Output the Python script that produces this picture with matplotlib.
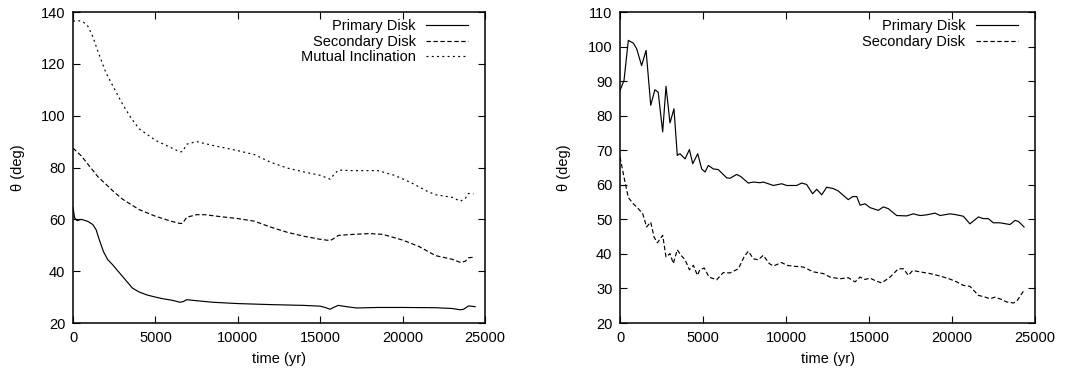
import numpy as np
import matplotlib
matplotlib.use("Agg")
import matplotlib.pyplot as plt

# left panel: inclination of the two disks and the mutual inclination
t_prim_a = [0, 100, 250, 500, 900, 1200, 1400, 1600, 1850, 2100, 2400, 2800, 3200, 3600,
            4000, 4500, 5000, 5500, 6000, 6500, 6700, 6900, 7500, 8500, 10000, 12000, 14000,
            15000, 15300, 15600, 15800, 16100, 16600, 17200, 18500, 20000, 22000, 23000,
            23500, 23700, 24000, 24400]
prim_a = [64.5, 60.5, 59.5, 60, 59.2, 58, 56, 52, 47.5, 44.5, 42.5, 39.5, 36.5, 33.5,
          32, 30.8, 30, 29.3, 28.8, 28, 28.3, 29, 28.6, 28, 27.5, 27.1, 26.8,
          26.5, 26, 25.3, 26, 26.8, 26.3, 25.8, 26, 26, 25.9, 25.6,
          25.1, 25.3, 26.6, 26.3]

t_sec_a = [0, 500, 1000, 1500, 2000, 2500, 3000, 4000, 5000, 6000, 6500, 6650, 6900, 7500,
           8000, 9000, 10000, 11000, 12000, 13000, 14000, 15000, 15600, 15800, 16100, 17000,
           18000, 18800, 20000, 21000, 22000, 23000, 23500, 23800, 24000, 24400]
sec_a = [87.5, 84.5, 80.5, 76.5, 73.5, 70.5, 67.8, 63.8, 61.2, 59.2, 58.4, 58.5, 60.8, 61.8,
         61.8, 61, 60.3, 59.3, 57, 55, 53.5, 52.3, 51.8, 52.5, 53.8, 54.2,
         54.5, 54.2, 52, 49.5, 46, 44.6, 43.4, 43.8, 45.2, 45.4]

t_mut = [0, 300, 600, 900, 1200, 1500, 2000, 2500, 3000, 3500, 4000, 5000, 6000, 6500, 6650,
         6900, 7500, 8500, 10000, 11000, 12000, 13000, 14000, 15000, 15600, 15800, 16100,
         17000, 18500, 19500, 20500, 21500, 22000, 23000, 23500, 23800, 24000, 24300]
mut = [136.5, 136.7, 136.3, 134.5, 130.5, 125, 116.5, 110.5, 104.5, 99.3, 95, 90.5, 87.5, 86, 86.2,
       89, 90, 88.5, 86.5, 85, 82, 79.8, 78.3, 77, 75.5, 77, 79,
       78.8, 78.8, 77, 74.2, 70.8, 69.5, 68.5, 67, 68, 70, 69.8]

# right panel
t_prim_b = [0, 240, 500, 800, 1000, 1300, 1570, 1850, 2100, 2300, 2570, 2770, 3010, 3250,
            3450, 3610, 3920, 4180, 4380, 4680, 4920, 5120, 5320, 5620, 5920, 6430, 6630,
            7030, 7270, 7730, 8030, 8430, 8630, 9240, 9740, 10040, 10640, 10940, 11240,
            11600, 11850, 12150, 12450, 12850, 13150, 13750, 14020, 14260, 14460, 14760,
            15060, 15560, 15860, 16160, 16670, 17270, 17670, 18070, 18470, 18980, 19280,
            19880, 20180, 20680, 21080, 21590, 21890, 22190, 22490, 22890, 23490, 23800,
            24000, 24340]
prim_b = [87.3, 90.2, 101.8, 101, 99.4, 94.5, 98.9, 83, 87.5, 86.8, 75.3, 88.5, 77.9, 82,
          68.5, 69, 67.5, 70.2, 66.1, 69, 64.6, 63.7, 65.6, 64.6, 64.4, 62, 61.9,
          63, 62.4, 60.5, 60.8, 60.6, 60.8, 59.8, 60.3, 59.8, 59.8, 60.5, 60.1,
          57.4, 58.7, 57.1, 59.3, 58.9, 58.2, 55.7, 56.6, 56.6, 54.1, 54.5,
          53.4, 52.6, 53.6, 53.1, 51.1, 51, 51.6, 51.1, 51.3, 51.8, 51.1,
          51.6, 51.4, 50.9, 48.7, 50.7, 50.2, 50.2, 49, 49, 48.5, 49.7,
          49.4, 47.8]

t_sec_b = [0, 240, 500, 800, 1100, 1370, 1600, 1850, 2050, 2250, 2570, 2770, 3010, 3210,
           3450, 3670, 3920, 4180, 4420, 4660, 4820, 5080, 5360, 5820, 6220, 6630, 7130,
           7470, 7730, 8030, 8330, 8630, 8990, 9240, 9740, 10040, 10540, 11040, 11650,
           12250, 12650, 13250, 13750, 14160, 14460, 14760, 15060, 15360, 15760, 16270,
           16770, 17070, 17370, 17630, 18070, 18680, 19280, 19880, 20280, 20680, 21080,
           21590, 21990, 22290, 22590, 22990, 23290, 23700, 23900, 24340]
sec_b = [68, 62.2, 56.3, 54.5, 53.1, 51.6, 47.8, 49.2, 44.9, 43.2, 45.4, 39.1, 40.1, 37.2,
         41.2, 39.6, 38.3, 35.4, 36.7, 33.8, 35.5, 35.9, 33.3, 32.5, 34.6, 34.5, 35.7,
         39.1, 40.8, 38.6, 38.3, 39.6, 37.2, 36.5, 37.5, 36.7, 36.4, 36.2, 34.8,
         34.3, 33.3, 32.8, 33.1, 31.9, 33.3, 32.6, 33, 32.3, 31.6, 33.3,
         35.7, 35.7, 33.8, 35.2, 34.8, 34.3, 33.6, 32.7, 31.9, 30.9, 30.6,
         28, 27.5, 27, 27.5, 26.8, 26.1, 25.8, 26.3, 29.5]

plt.rcParams['font.family'] = ['Liberation Sans', 'DejaVu Sans']
plt.rcParams['font.size'] = 10.5
plt.rcParams['lines.scale_dashes'] = False

fig = plt.figure(figsize=(10.74, 3.70), dpi=100)
ax1 = fig.add_axes([0.068, 0.127, 0.3836, 0.8405])
ax2 = fig.add_axes([0.5773, 0.127, 0.3864, 0.8405])

dash = (0, (3.2, 1.8))
dots = (0, (1.4, 2.4))

ax1.plot(t_prim_a, prim_a, color='k', lw=0.85, label='Primary Disk')
ax1.plot(t_sec_a, sec_a, color='k', lw=0.85, linestyle=dash, label='Secondary Disk')
ax1.plot(t_mut, mut, color='k', lw=0.85, linestyle=dots, label='Mutual Inclination')
ax1.set_ylim(20, 140)
ax1.set_yticks(np.arange(20, 141, 20))

ax2.plot(t_prim_b, prim_b, color='k', lw=0.85, label='Primary Disk')
ax2.plot(t_sec_b, sec_b, color='k', lw=0.85, linestyle=dash, label='Secondary Disk')
ax2.set_ylim(20, 110)
ax2.set_yticks(np.arange(20, 111, 10))

for ax in (ax1, ax2):
    ax.set_xlim(0, 25000)
    ax.set_xticks(np.arange(0, 25001, 5000))
    ax.tick_params(direction='in', top=True, right=True, length=4.8, width=0.8, pad=5.5)
    for s in ax.spines.values():
        s.set_linewidth(1.1)
    ax.set_xlabel('time (yr)')
    ax.set_ylabel('θ (deg)')
    ax.xaxis.set_label_coords(0.5, -0.093)
    ax.yaxis.set_label_coords(-0.117, 0.5)
    ax.legend(loc='upper right', bbox_to_anchor=(0.959, 0.977), frameon=False,
              markerfirst=False, borderpad=0, borderaxespad=0, handlelength=2.9,
              handletextpad=0.7, labelspacing=0.1)

fig.savefig('out.png', dpi=100)
